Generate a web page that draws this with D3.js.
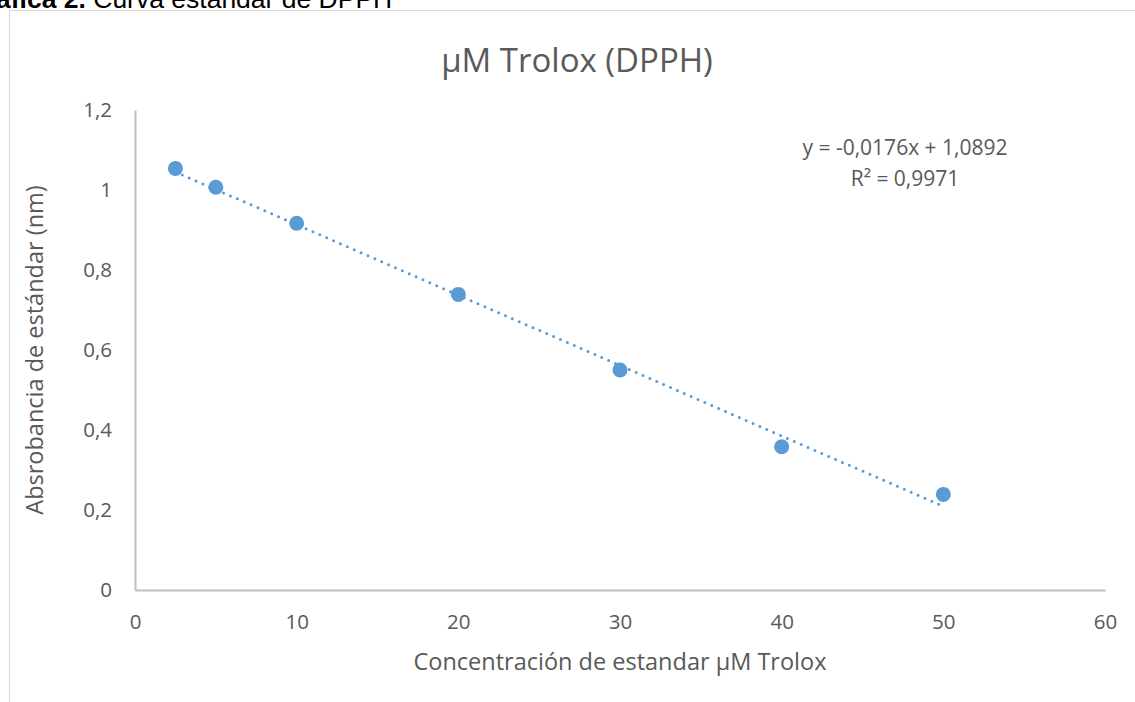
<!DOCTYPE html>
<html>
<head>
<meta charset="utf-8">
<script src="https://cdn.jsdelivr.net/npm/d3@7"></script>
<style>
  html, body { margin: 0; padding: 0; background: #fff; overflow: hidden; }
  svg { display: block; }
</style>
</head>
<body>
<script>
"use strict";

// concentration of Trolox standard (uM) and measured absorbance
var concentrations = [2.5, 5, 10, 20, 30, 40, 50];
var absorbance = [1.054, 1.007, 0.917, 0.739, 0.550, 0.358, 0.239];

// linear trendline from the original sheet
var trendSlope = -0.0176;
var trendIntercept = 1.0892;
var trendLabels = ["y = -0,0176x + 1,0892", "R² = 0,9971"];

var xTicks = [0, 10, 20, 30, 40, 50, 60];
var yTicks = [0, 0.2, 0.4, 0.6, 0.8, 1, 1.2];

var chartTitle = "µM Trolox (DPPH)";
var xTitle = "Concentración de estandar µM Trolox";
var yTitle = "Absrobancia de estándar (nm)";

var W = 1135, H = 702;
var textColor = "#595959";
var font = "'Open Sans', 'Noto Sans', sans-serif";

var svg = d3.select("body").append("svg")
	.attr("width", W)
	.attr("height", H);

// caption of the document, cut by the top of the page
var caption = svg.append("text")
	.attr("x", -4)
	.attr("y", 8)
	.attr("font-family", "'Liberation Sans', Arial, sans-serif")
	.attr("font-size", 26.5)
	.attr("fill", "#000");
caption.append("tspan").attr("font-weight", "bold").text("áfica 2.");
caption.append("tspan").text(" Curva estándar de DPPH");

// chart frame
svg.append("path")
	.attr("d", "M9.5," + H + "V10.5H" + W)
	.attr("fill", "none")
	.attr("stroke", "#d9d9d9")
	.attr("stroke-width", 1);

var x = d3.scaleLinear().domain([0, 60]).range([135, 1105]);
var y = d3.scaleLinear().domain([0, 1.2]).range([590, 110]);

var fmt = function(d) { return String(+d.toFixed(1)).replace(".", ","); };

// axes
var gx = svg.append("g")
	.attr("transform", "translate(0," + y(0) + ")")
	.call(d3.axisBottom(x).tickValues(xTicks).tickSize(0).tickPadding(32).tickFormat(fmt));
var gy = svg.append("g")
	.attr("transform", "translate(" + x(0) + ",0)")
	.call(d3.axisLeft(y).tickValues(yTicks).tickSize(0).tickPadding(23).tickFormat(fmt));

[gx, gy].forEach(function(g) {
	g.select(".domain").attr("stroke", "#bfbfbf").attr("stroke-width", 2);
	g.selectAll("text")
		.attr("fill", textColor)
		.attr("font-family", font)
		.attr("font-size", 20.5);
});
gx.selectAll("text").attr("dy", "0.36em");

// trendline
var trendX = d3.extent(concentrations);
svg.append("line")
	.attr("x1", x(trendX[0]))
	.attr("y1", y(trendSlope * trendX[0] + trendIntercept))
	.attr("x2", x(trendX[1]))
	.attr("y2", y(trendSlope * trendX[1] + trendIntercept))
	.attr("stroke", "#5b9bd5")
	.attr("stroke-width", 3)
	.attr("stroke-linecap", "round")
	.attr("stroke-dasharray", "0,7.5");

// points
svg.append("g").selectAll("circle")
	.data(concentrations)
	.join("circle")
	.attr("cx", function(d) { return x(d); })
	.attr("cy", function(d, i) { return y(absorbance[i]); })
	.attr("r", 7.5)
	.attr("fill", "#5b9bd5");

// equation label
svg.append("g").selectAll("text")
	.data(trendLabels)
	.join("text")
	.attr("x", 905)
	.attr("y", function(d, i) { return 155 + i * 31; })
	.attr("text-anchor", "middle")
	.attr("font-family", font)
	.attr("font-size", 21)
	.attr("fill", textColor)
	.text(function(d) { return d; });

// titles
svg.append("text")
	.attr("x", 577)
	.attr("y", 72)
	.attr("text-anchor", "middle")
	.attr("font-family", font)
	.attr("font-size", 33)
	.attr("fill", textColor)
	.text(chartTitle);

svg.append("text")
	.attr("x", 620)
	.attr("y", 670)
	.attr("text-anchor", "middle")
	.attr("font-family", font)
	.attr("font-size", 23.5)
	.attr("fill", textColor)
	.text(xTitle);

svg.append("text")
	.attr("transform", "translate(43,350) rotate(-90)")
	.attr("text-anchor", "middle")
	.attr("font-family", font)
	.attr("font-size", 23.5)
	.attr("fill", textColor)
	.text(yTitle);
</script>
</body>
</html>
